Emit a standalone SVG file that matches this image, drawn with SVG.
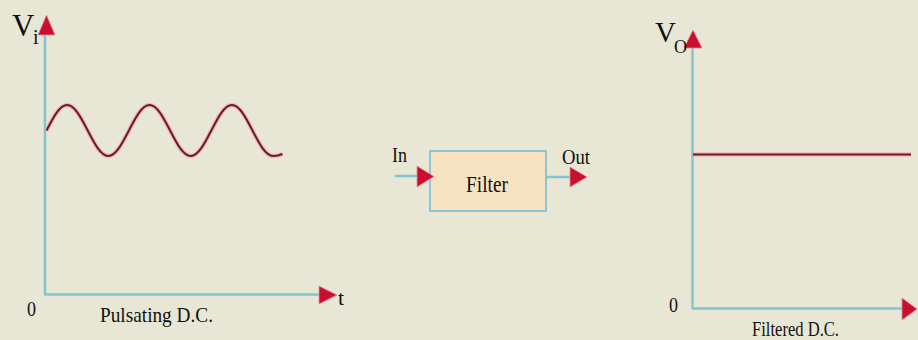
<svg xmlns="http://www.w3.org/2000/svg" width="918" height="340" viewBox="0 0 918 340">
<style>
.bg{fill:#e8e7d5}
.axis{stroke:#84c4d2;stroke-width:2.5;fill:none}
.head{fill:#c8102e;stroke:#e88a9c;stroke-width:0.8}
.glow{stroke:#f2a3b3;stroke-width:4.5;fill:none;opacity:0.7}
.wave{stroke:#6a1b25;stroke-width:2;fill:none}
.txt{font-family:"Liberation Serif","Times New Roman",serif;fill:#111}
.box{fill:#f5e3c2;stroke:#8ec5d6;stroke-width:2}
</style>
<rect class="bg" x="0" y="0" width="918" height="340"/>

<g id="input-graph">
  <line class="axis" x1="45" y1="295" x2="45" y2="33"/>
  <line class="axis" x1="44" y1="294.5" x2="320" y2="294.5"/>
  <polygon class="head" points="38,35 46.5,15 55,35"/>
  <polygon class="head" points="319,286 337,295 319,304"/>
  <path class="glow" d="M46.5,130.5 C53.22,117.44 59.64,105 67.1,105 C74.56,105 80.98,117.44 87.7,130.5 C94.42,143.56 100.84,156 108.3,156 C115.76,156 122.18,143.56 128.9,130.5 C135.62,117.44 142.04,105 149.5,105 C156.96,105 163.38,117.44 170.1,130.5 C176.82,143.56 183.24,156 190.7,156 C198.16,156 204.58,143.56 211.3,130.5 C218.02,117.44 224.44,105 231.9,105 C239.36,105 245.78,117.44 252.5,130.5 C259.22,143.56 265.64,156 273.1,156 C276.5,156 279.5,155.3 282.5,154"/>
  <path class="wave" d="M46.5,130.5 C53.22,117.44 59.64,105 67.1,105 C74.56,105 80.98,117.44 87.7,130.5 C94.42,143.56 100.84,156 108.3,156 C115.76,156 122.18,143.56 128.9,130.5 C135.62,117.44 142.04,105 149.5,105 C156.96,105 163.38,117.44 170.1,130.5 C176.82,143.56 183.24,156 190.7,156 C198.16,156 204.58,143.56 211.3,130.5 C218.02,117.44 224.44,105 231.9,105 C239.36,105 245.78,117.44 252.5,130.5 C259.22,143.56 265.64,156 273.1,156 C276.5,156 279.5,155.3 282.5,154"/>
  <text class="txt" x="12" y="36" font-size="31">V</text>
  <text class="txt" x="33" y="44" font-size="20">i</text>
  <text class="txt" x="27" y="316" font-size="22" textLength="9" lengthAdjust="spacingAndGlyphs">0</text>
  <text class="txt" x="338" y="305" font-size="22">t</text>
  <text class="txt" x="100" y="322" font-size="22" textLength="113" lengthAdjust="spacingAndGlyphs">Pulsating D.C.</text>
</g>

<g id="filter">
  <rect class="box" x="430" y="151" width="116" height="60"/>
  <text class="txt" x="466" y="192" font-size="23" textLength="42" lengthAdjust="spacingAndGlyphs">Filter</text>
</g>

<g id="connectors">
  <line class="axis" x1="395" y1="176" x2="420" y2="176"/>
  <polygon class="head" points="417,166 434,176.5 417,187"/>
  <text class="txt" x="392" y="162" font-size="22" textLength="15" lengthAdjust="spacingAndGlyphs">In</text>
  <line class="axis" x1="546" y1="177" x2="572" y2="177"/>
  <polygon class="head" points="570,167 587,177 570,187"/>
  <text class="txt" x="562" y="164" font-size="22" textLength="28" lengthAdjust="spacingAndGlyphs">Out</text>
</g>

<g id="output-graph">
  <line class="axis" x1="692.5" y1="309" x2="692.5" y2="46"/>
  <line class="axis" x1="692" y1="308.5" x2="903" y2="308.5"/>
  <polygon class="head" points="684,48 693,30 702,48"/>
  <polygon class="head" points="902,298 917,309 902,320"/>
  <line class="glow" x1="693" y1="154.5" x2="911" y2="154.5"/>
  <line class="wave" x1="693" y1="154.5" x2="911" y2="154.5"/>
  <text class="txt" x="655" y="42" font-size="29">V</text>
  <text class="txt" x="674" y="53" font-size="18">O</text>
  <text class="txt" x="669" y="312" font-size="22" textLength="9" lengthAdjust="spacingAndGlyphs">0</text>
  <text class="txt" x="752" y="336" font-size="20" textLength="87" lengthAdjust="spacingAndGlyphs">Filtered D.C.</text>
</g>
</svg>
